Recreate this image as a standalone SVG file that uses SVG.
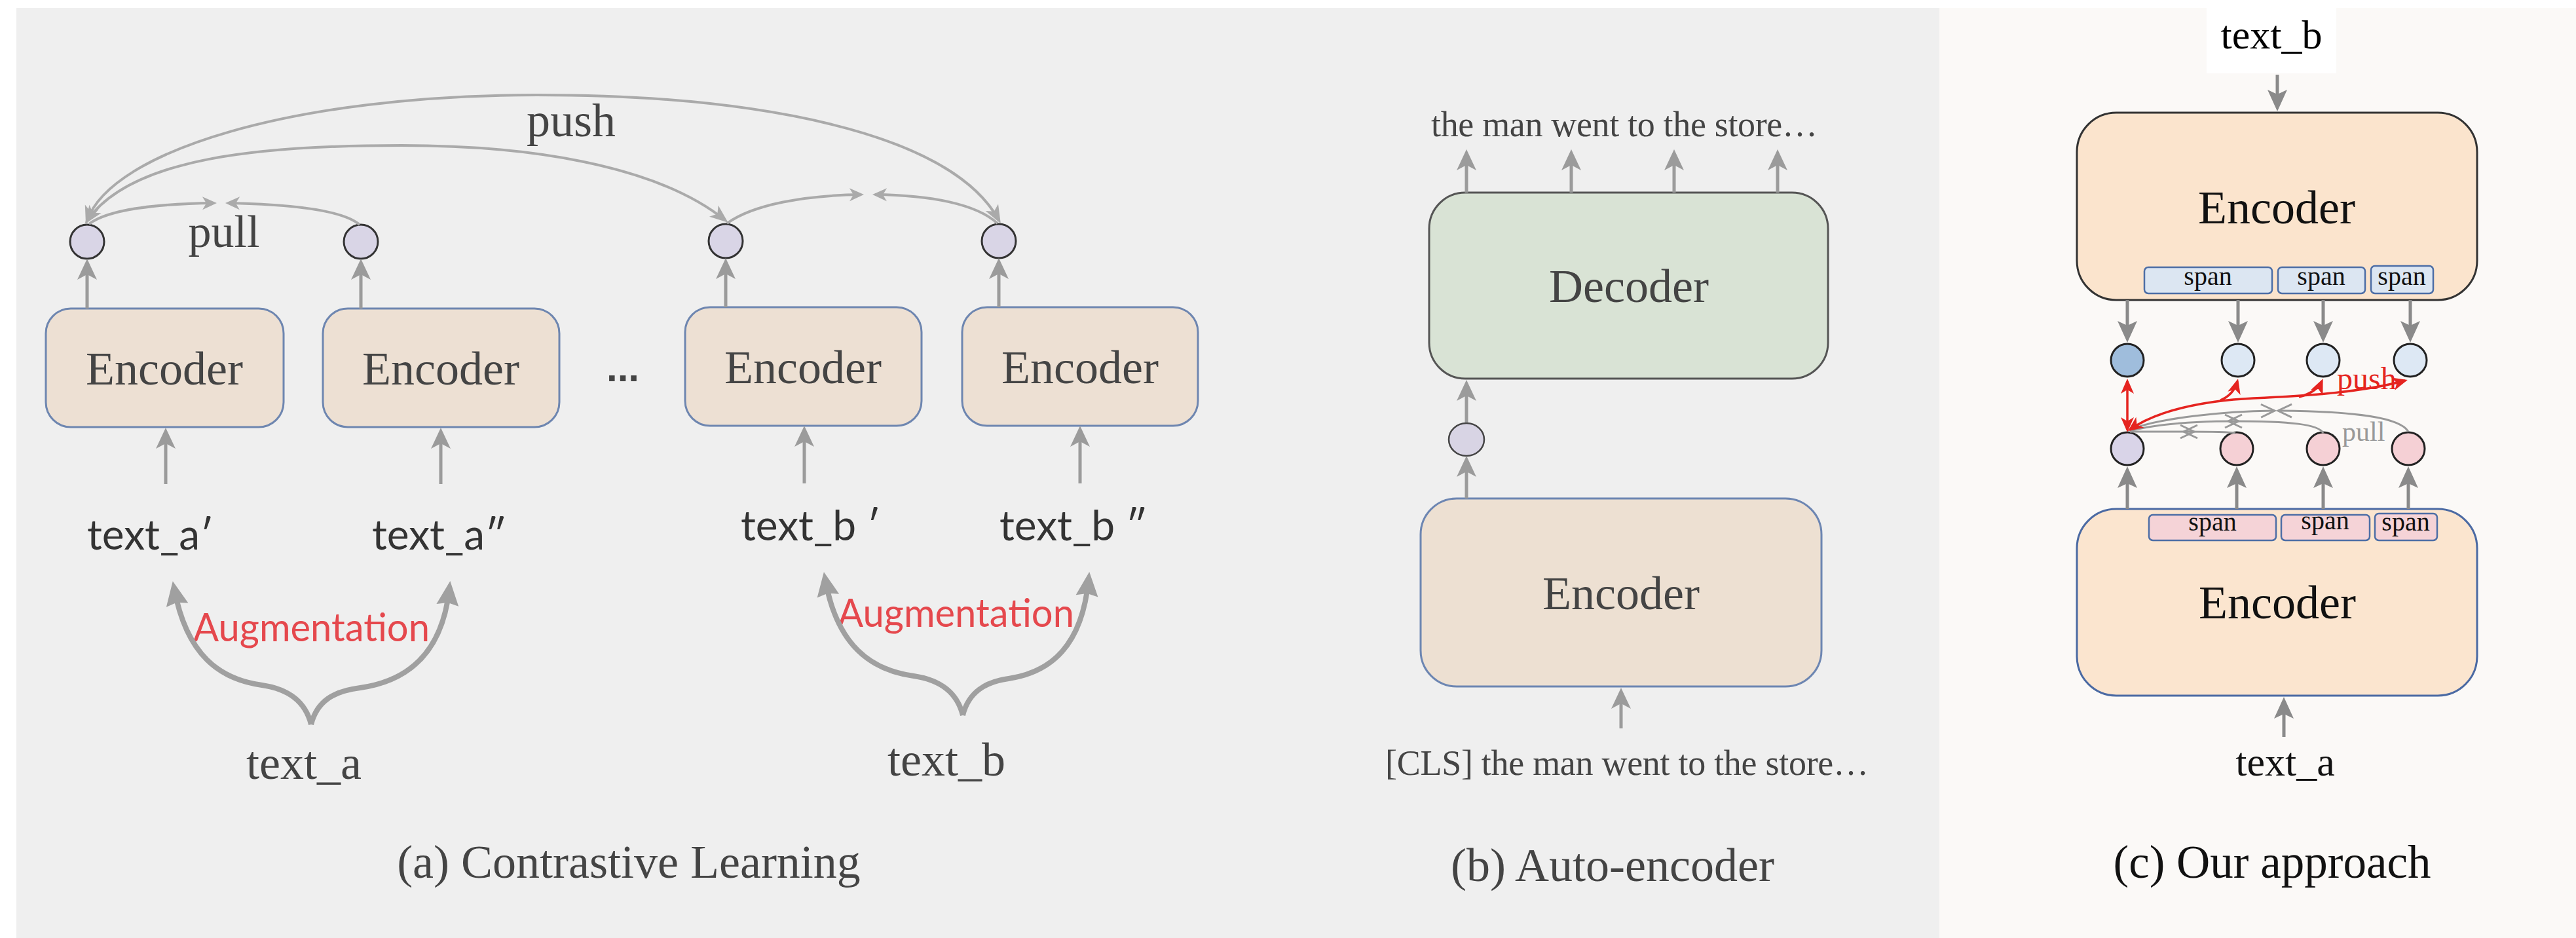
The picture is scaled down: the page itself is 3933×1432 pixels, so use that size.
<svg xmlns="http://www.w3.org/2000/svg" width="3933" height="1432" viewBox="0 0 3933 1432">
<style>
.serif{font-family:"Liberation Serif","Times New Roman",serif;}
.sans{font-family:Lato,"Liberation Sans",sans-serif;}
.lbl{fill:#444;font-size:72px;text-anchor:middle;}
.enc{fill:#ede0d3;stroke:#6e86b0;stroke-width:3;}
.dot{fill:#d9d5e6;stroke:#333;stroke-width:3;}
.va{stroke:#9b9b9b;stroke-width:5;fill:none;marker-end:url(#ha);}
.vc{stroke:#8a8a8a;stroke-width:5;fill:none;marker-end:url(#hc);}
.arc{stroke:#aaa;stroke-width:4;fill:none;}
.brace{stroke:#a0a0a0;stroke-width:8;fill:none;marker-end:url(#hb);}
.aug{fill:#e5484d;font-size:60px;}
.tx{fill:#333;font-size:64px;}
.span1{fill:#dce6f2;stroke:#4d6ea6;stroke-width:2.5;}
.span2{fill:#f5d3d7;stroke:#4d6ea6;stroke-width:2.5;}
.spt{fill:#111;font-size:40px;text-anchor:middle;}
.cb{stroke:#222;stroke-width:3;}
.red{stroke:#e52420;stroke-width:3.5;fill:none;}
.pg{stroke:#999;stroke-width:3;fill:none;marker-end:url(#hg);}
</style>
<defs>
<marker id="ha" markerUnits="userSpaceOnUse" markerWidth="60" markerHeight="60" orient="auto" overflow="visible"><path d="M8,0 L-24,-15 L-16,0 L-24,15 Z" fill="#9b9b9b"/></marker>
<marker id="hc" markerUnits="userSpaceOnUse" markerWidth="60" markerHeight="60" orient="auto" overflow="visible"><path d="M7,0 L-26,-15 L-19,0 L-26,15 Z" fill="#8a8a8a"/></marker>
<marker id="hp" markerUnits="userSpaceOnUse" markerWidth="60" markerHeight="60" orient="auto-start-reverse" overflow="visible"><path d="M6,0 L-22,-11 L-15,0 L-22,11 Z" fill="#aaa"/></marker>
<marker id="hv" markerUnits="userSpaceOnUse" markerWidth="60" markerHeight="60" orient="auto" overflow="visible"><path d="M4,0 L-18,-10 L-12,0 L-18,10 Z" fill="#aaa"/></marker>
<marker id="hr" markerUnits="userSpaceOnUse" markerWidth="60" markerHeight="60" orient="auto-start-reverse" overflow="visible"><path d="M4,0 L-19,-10 L-13,0 L-19,10 Z" fill="#e52420"/></marker>
<marker id="hg" markerUnits="userSpaceOnUse" markerWidth="60" markerHeight="60" orient="auto" overflow="visible"><path d="M-18,-10 L3,0 L-18,10" fill="none" stroke="#999" stroke-width="3"/></marker>
<marker id="hb" markerUnits="userSpaceOnUse" markerWidth="80" markerHeight="80" orient="auto" overflow="visible"><path d="M12,0 L-25,-17 L-21,0 L-25,17 Z" fill="#a0a0a0"/></marker>
</defs>

<rect x="0" y="0" width="3933" height="1432" fill="#ffffff"/>
<rect x="25" y="12" width="2936" height="1420" fill="#efefef"/>
<rect x="2961" y="12" width="972" height="1420" fill="#fbf9f7"/>
<rect x="3369" y="0" width="198" height="112" fill="#ffffff"/>

<!-- Panel (a) -->
<g id="a-encoder1"><rect class="enc" x="70" y="471" width="363" height="181" rx="38"/><text class="serif lbl" x="251" y="587">Encoder</text></g>
<g id="a-encoder2"><rect class="enc" x="493" y="471" width="361" height="181" rx="38"/><text class="serif lbl" x="673" y="587">Encoder</text></g>
<g id="a-encoder3"><rect class="enc" x="1046" y="469" width="361" height="181" rx="38"/><text class="serif lbl" x="1226" y="585">Encoder</text></g>
<g id="a-encoder4"><rect class="enc" x="1469" y="469" width="360" height="181" rx="38"/><text class="serif lbl" x="1649" y="585">Encoder</text></g>
<g id="a-ellipsis"><text x="951" y="582" font-family="Liberation Sans,sans-serif" font-weight="bold" font-size="60" fill="#444" text-anchor="middle">...</text></g>
<g id="a-emb1"><circle class="dot" cx="133" cy="369" r="26"/></g>
<g id="a-emb2"><circle class="dot" cx="551" cy="369" r="26"/></g>
<g id="a-emb3"><circle class="dot" cx="1108" cy="368" r="26"/></g>
<g id="a-emb4"><circle class="dot" cx="1525" cy="368" r="26"/></g>
<g id="a-texta1"><text class="sans tx" x="133" y="839">text_a′</text></g>
<g id="a-texta2"><text class="sans tx" x="568" y="839">text_a″</text></g>
<g id="a-textb1"><text class="sans tx" x="1131" y="825">text_b ′</text></g>
<g id="a-textb2"><text class="sans tx" x="1526" y="825">text_b ″</text></g>
<g id="a-texta"><text class="serif lbl" x="464" y="1189" font-size="71">text_a</text></g>
<g id="a-textb"><text class="serif lbl" x="1445" y="1184" font-size="71">text_b</text></g>
<g id="a-labels">
<text class="serif" x="872" y="208" font-size="72" fill="#444" text-anchor="middle">push</text>
<text class="serif" x="342" y="377" font-size="70" fill="#444" text-anchor="middle">pull</text>
<text class="sans aug" x="295" y="979" textLength="361" lengthAdjust="spacingAndGlyphs">Augmentation</text>
<text class="sans aug" x="1279" y="957" textLength="361" lengthAdjust="spacingAndGlyphs">Augmentation</text>
<text class="serif lbl" x="960" y="1340">(a) Contrastive Learning</text>
</g>

<!-- Panel (b) -->
<g id="b-decoder"><rect x="2182" y="294" width="609" height="284" rx="55" fill="#d9e3d5" stroke="#555" stroke-width="3"/><text class="serif lbl" x="2487" y="461">Decoder</text></g>
<g id="b-emb"><ellipse cx="2239" cy="671" rx="27" ry="25" fill="#d8d4e4" stroke="#444" stroke-width="2.5"/></g>
<g id="b-encoder"><rect x="2169" y="761" width="612" height="287" rx="55" fill="#ede0d2" stroke="#6d86b2" stroke-width="3"/><text class="serif lbl" x="2475" y="930">Encoder</text></g>
<g id="b-output"><text class="serif" x="2185" y="208" font-size="54" fill="#444" textLength="590" lengthAdjust="spacing">the man went to the store…</text></g>
<g id="b-input"><text class="serif" x="2115" y="1183" font-size="54" fill="#444" textLength="738" lengthAdjust="spacing">[CLS] the man went to the store…</text></g>
<g id="b-caption"><text class="serif lbl" x="2462" y="1345" font-size="71">(b) Auto-encoder</text></g>

<!-- Panel (c) -->
<g id="c-textb"><text class="serif" x="3468" y="74" font-size="62" fill="#000" text-anchor="middle">text_b</text></g>
<g id="c-encoder-top">
<rect x="3171" y="172" width="611" height="286" rx="60" fill="#fbe4cd" stroke="#333" stroke-width="3"/>
<text class="serif" x="3476" y="341" font-size="72" fill="#111" text-anchor="middle">Encoder</text>
<rect class="span1" x="3274" y="408" width="195" height="40" rx="6"/><text class="serif spt" x="3371" y="435">span</text>
<rect class="span1" x="3478" y="408" width="133" height="40" rx="6"/><text class="serif spt" x="3544" y="435">span</text>
<rect class="span1" x="3620" y="406" width="95" height="42" rx="6"/><text class="serif spt" x="3667" y="435">span</text>
</g>
<g id="c-top-emb1"><circle class="cb" cx="3248" cy="550" r="25" fill="#9fbddc"/></g>
<g id="c-top-emb2"><circle class="cb" cx="3417" cy="550" r="25" fill="#dde8f4"/></g>
<g id="c-top-emb3"><circle class="cb" cx="3547" cy="550" r="25" fill="#dde8f4"/></g>
<g id="c-top-emb4"><circle class="cb" cx="3680" cy="550" r="25" fill="#dde8f4"/></g>
<g id="c-bot-emb1"><circle class="cb" cx="3248" cy="685" r="25" fill="#d9d4e8"/></g>
<g id="c-bot-emb2"><circle class="cb" cx="3415" cy="685" r="25" fill="#f5d0d5"/></g>
<g id="c-bot-emb3"><circle class="cb" cx="3547" cy="685" r="25" fill="#f5d0d5"/></g>
<g id="c-bot-emb4"><circle class="cb" cx="3677" cy="685" r="25" fill="#f5d0d5"/></g>
<g id="c-encoder-bottom">
<rect x="3171" y="777" width="611" height="285" rx="60" fill="#fbe5cf" stroke="#4b6aa3" stroke-width="3"/>
<rect class="span2" x="3281" y="786" width="194" height="39" rx="6"/><text class="serif spt" x="3378" y="810">span</text>
<rect class="span2" x="3483" y="786" width="135" height="39" rx="6"/><text class="serif spt" x="3550" y="808">span</text>
<rect class="span2" x="3626" y="784" width="95" height="41" rx="6"/><text class="serif spt" x="3673" y="810">span</text>
<text class="serif" x="3477" y="944" font-size="72" fill="#111" text-anchor="middle">Encoder</text>
</g>
<g id="c-texta"><text class="serif" x="3489" y="1184" font-size="62" fill="#111" text-anchor="middle">text_a</text></g>
<g id="c-labels">
<text class="serif" x="3568" y="594" font-size="48" fill="#e52420">push</text>
<text class="serif" x="3576" y="673" font-size="42" fill="#999">pull</text>
<text class="serif" x="3469" y="1340" font-size="71" fill="#111" text-anchor="middle">(c) Our approach</text>
</g>

<g id="connectors">
<!-- (a) vertical arrows -->
<path class="va" d="M133,471 L133,403"/>
<path class="va" d="M551,471 L551,403"/>
<path class="va" d="M1108,469 L1108,402"/>
<path class="va" d="M1525,469 L1525,402"/>
<path class="va" d="M253,739 L253,661"/>
<path class="va" d="M673,739 L673,661"/>
<path class="va" d="M1228,738 L1228,658"/>
<path class="va" d="M1649,738 L1649,658"/>
<!-- (a) push arcs -->
<path class="arc" marker-start="url(#hp)" marker-end="url(#hp)" d="M133,337 C170,230 450,145 820,145 C1150,145 1450,200 1525,336"/>
<path class="arc" marker-start="url(#hp)" marker-end="url(#hp)" d="M133,337 C200,240 400,222 613,222 C800,222 1000,250 1107,336"/>
<!-- (a) pull arcs -->
<path class="arc" marker-end="url(#hv)" d="M136,342 C165,320 240,311 327,310"/>
<path class="arc" marker-end="url(#hv)" d="M549,343 C525,322 450,312 348,310"/>
<path class="arc" marker-end="url(#hv)" d="M1110,341 C1150,312 1230,298 1315,297"/>
<path class="arc" marker-end="url(#hv)" d="M1523,341 C1490,311 1420,298 1336,297"/>
<!-- (a) augmentation braces -->
<path class="brace" d="M475,1106 C466,1070 440,1052 400,1046 C335,1037 285,1000 266,899"/>
<path class="brace" d="M475,1106 C484,1070 510,1055 550,1050 C620,1040 675,1000 686,899"/>
<path class="brace" d="M1470,1092 C1461,1056 1435,1038 1395,1032 C1330,1023 1278,986 1260,885"/>
<path class="brace" d="M1470,1092 C1479,1056 1505,1041 1540,1036 C1605,1026 1652,986 1662,885"/>
<!-- (b) arrows -->
<path class="va" d="M2239,294 L2239,236"/>
<path class="va" d="M2399,294 L2399,236"/>
<path class="va" d="M2556,294 L2556,236"/>
<path class="va" d="M2714,294 L2714,236"/>
<path class="va" d="M2239,645 L2239,588"/>
<path class="va" d="M2239,761 L2239,704"/>
<path class="va" d="M2475,1112 L2475,1058"/>
<!-- (c) arrows -->
<path class="vc" d="M3477,114 L3477,163"/>
<path class="vc" d="M3248,458 L3248,516"/>
<path class="vc" d="M3417,458 L3417,516"/>
<path class="vc" d="M3547,458 L3547,516"/>
<path class="vc" d="M3680,458 L3680,516"/>
<path class="vc" d="M3248,777 L3248,719"/>
<path class="vc" d="M3415,777 L3415,719"/>
<path class="vc" d="M3547,777 L3547,719"/>
<path class="vc" d="M3677,777 L3677,719"/>
<path class="vc" d="M3487,1125 L3487,1071"/>
<!-- (c) pull arcs -->
<path class="pg" d="M3252,659 C3280,659 3310,659 3347,659"/>
<path class="pg" d="M3413,661 C3400,659 3380,659 3337,659"/>
<path class="pg" d="M3252,658 C3290,648 3350,643 3415,643"/>
<path class="pg" d="M3547,661 C3540,648 3500,643 3405,643"/>
<path class="pg" d="M3252,656 C3300,637 3400,628 3470,627"/>
<path class="pg" d="M3677,659 C3665,638 3600,628 3481,627"/>
<!-- (c) push arrows -->
<path class="red" marker-start="url(#hr)" marker-end="url(#hr)" d="M3248,656 L3248,582"/>
<path class="red" marker-start="url(#hr)" marker-end="url(#hr)" d="M3252,656 C3290,628 3360,612 3440,608 C3530,604 3610,598 3672,581"/>
<path class="red" marker-end="url(#hr)" d="M3390,611 C3405,605 3413,593 3416,582"/>
<path class="red" marker-end="url(#hr)" d="M3510,606 C3530,601 3541,591 3545,582"/>
</g>
</svg>
